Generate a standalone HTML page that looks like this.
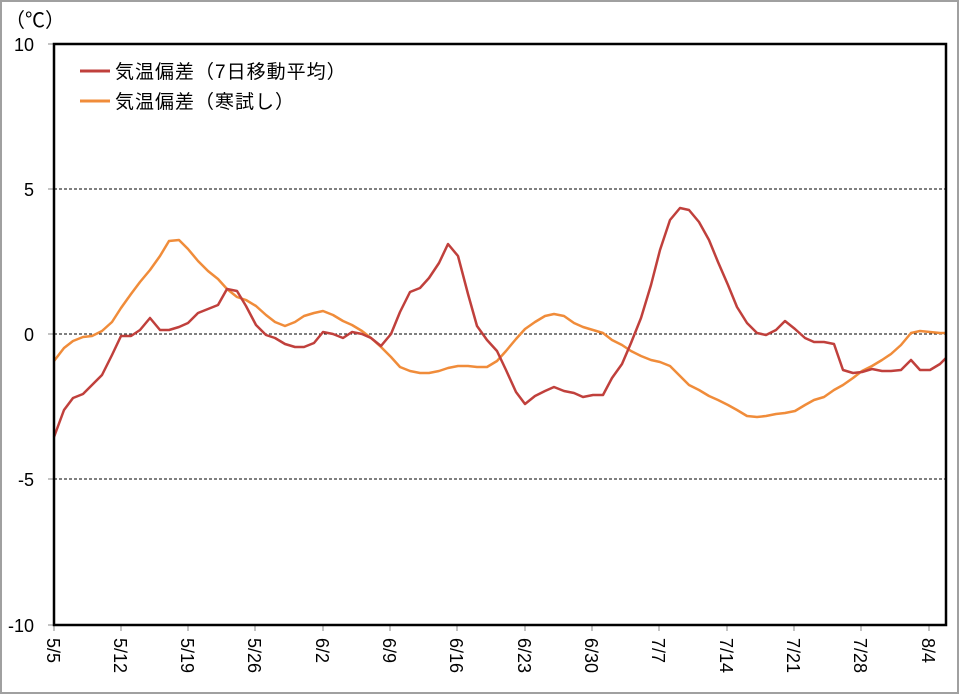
<!DOCTYPE html>
<html><head><meta charset="utf-8"><style>
html,body{margin:0;padding:0;background:#fff}
svg{display:block}
text{font-family:"Liberation Sans","Noto Sans CJK JP",sans-serif;fill:#000}
</style></head><body>
<svg width="960" height="695" viewBox="0 0 960 695">
<rect x="1" y="1" width="957" height="692" fill="#fff" stroke="#a0a0a0" stroke-width="2"/>
<text x="5" y="27" font-size="20">（℃）</text>
<g stroke="#000" stroke-width="1" stroke-dasharray="3,2">
<line x1="54" y1="189" x2="946" y2="189"/>
<line x1="54" y1="334" x2="946" y2="334"/>
<line x1="54" y1="479" x2="946" y2="479"/>
</g>
<g stroke="#888" stroke-width="1">
<line x1="48" y1="44" x2="54" y2="44"/><line x1="48" y1="189" x2="54" y2="189"/><line x1="48" y1="334" x2="54" y2="334"/><line x1="48" y1="479" x2="54" y2="479"/><line x1="48" y1="625" x2="54" y2="625"/>
<line x1="54" y1="625" x2="54" y2="631"/><line x1="121" y1="625" x2="121" y2="631"/><line x1="188" y1="625" x2="188" y2="631"/><line x1="255" y1="625" x2="255" y2="631"/><line x1="323" y1="625" x2="323" y2="631"/><line x1="390" y1="625" x2="390" y2="631"/><line x1="457" y1="625" x2="457" y2="631"/><line x1="525" y1="625" x2="525" y2="631"/><line x1="592" y1="625" x2="592" y2="631"/><line x1="659" y1="625" x2="659" y2="631"/><line x1="727" y1="625" x2="727" y2="631"/><line x1="794" y1="625" x2="794" y2="631"/><line x1="861" y1="625" x2="861" y2="631"/><line x1="929" y1="625" x2="929" y2="631"/>
</g>
<g font-size="18" text-anchor="end">
<text x="34" y="51">10</text><text x="34" y="196">5</text><text x="34" y="341">0</text><text x="34" y="486">-5</text><text x="34" y="632">-10</text>
</g>
<g font-size="18">
<text transform="translate(47,638) rotate(90)">5/5</text>
<text transform="translate(114,638) rotate(90)">5/12</text>
<text transform="translate(181,638) rotate(90)">5/19</text>
<text transform="translate(248,638) rotate(90)">5/26</text>
<text transform="translate(316,638) rotate(90)">6/2</text>
<text transform="translate(383,638) rotate(90)">6/9</text>
<text transform="translate(450,638) rotate(90)">6/16</text>
<text transform="translate(518,638) rotate(90)">6/23</text>
<text transform="translate(585,638) rotate(90)">6/30</text>
<text transform="translate(652,638) rotate(90)">7/7</text>
<text transform="translate(720,638) rotate(90)">7/14</text>
<text transform="translate(787,638) rotate(90)">7/21</text>
<text transform="translate(854,638) rotate(90)">7/28</text>
<text transform="translate(922,638) rotate(90)">8/4</text>
</g>
<polyline fill="none" stroke="#f08c3a" stroke-width="2.5" stroke-linejoin="round" points="54,361 64,348 73,341 83,337 92,336 102,331 112,322 121,308 131,294 140,282 150,270 160,256 169,241 179,240 188,249 198,261 208,271 218,279 227,289 237,297 246,300 256,306 266,315 275,322 285,326 295,322 304,316 314,313 323,311 333,315 343,321 352,325 362,331 371,338 381,347 391,357 400,367 410,371 420,373 429,373 439,371 448,368 458,366 468,366 477,367 487,367 497,361 506,351 516,339 525,329 535,322 545,316 554,314 564,316 574,323 583,327 593,330 603,333 612,340 622,345 631,351 641,356 651,360 660,362 670,366 680,376 689,385 699,390 709,396 718,400 728,405 737,410 747,416 757,417 766,416 776,414 785,413 795,411 805,405 814,400 824,397 834,390 843,385 853,378 862,371 872,366 882,360 891,354 901,345 911,333 920,331 930,332 940,333 946,333"/>
<polyline fill="none" stroke="#c0403c" stroke-width="2.5" stroke-linejoin="round" points="54,437 64,410 73,398 83,394 92,385 102,375 112,355 121,336 131,336 140,330 150,318 160,330 169,330 179,327 188,323 198,313 208,309 218,305 227,289 237,291 246,306 256,325 266,335 275,338 285,344 295,347 304,347 314,343 323,332 333,334 343,338 352,332 362,334 371,338 381,346 391,334 400,312 410,292 420,288 429,278 439,263 448,244 458,256 468,294 477,326 487,340 497,351 506,370 516,392 525,404 535,396 545,391 554,387 564,391 574,393 583,397 593,395 603,395 612,378 622,364 631,343 641,318 651,285 660,250 670,220 680,208 689,210 699,222 709,240 718,262 728,285 737,307 747,323 757,333 766,335 776,330 785,321 795,329 805,338 814,342 824,342 834,344 843,370 853,373 862,372 872,369 882,371 891,371 901,370 911,360 920,370 930,370 940,364 946,358"/>
<rect x="54" y="44" width="892" height="581" fill="none" stroke="#000" stroke-width="2.5"/>
<line x1="80" y1="71" x2="110" y2="71" stroke="#c0403c" stroke-width="3"/>
<line x1="80" y1="101" x2="110" y2="101" stroke="#f08c3a" stroke-width="3"/>
<text x="115" y="78" font-size="19" letter-spacing="1">気温偏差（7日移動平均）</text>
<text x="115" y="108" font-size="19" letter-spacing="1">気温偏差（寒試し）</text>
</svg>
</body></html>
